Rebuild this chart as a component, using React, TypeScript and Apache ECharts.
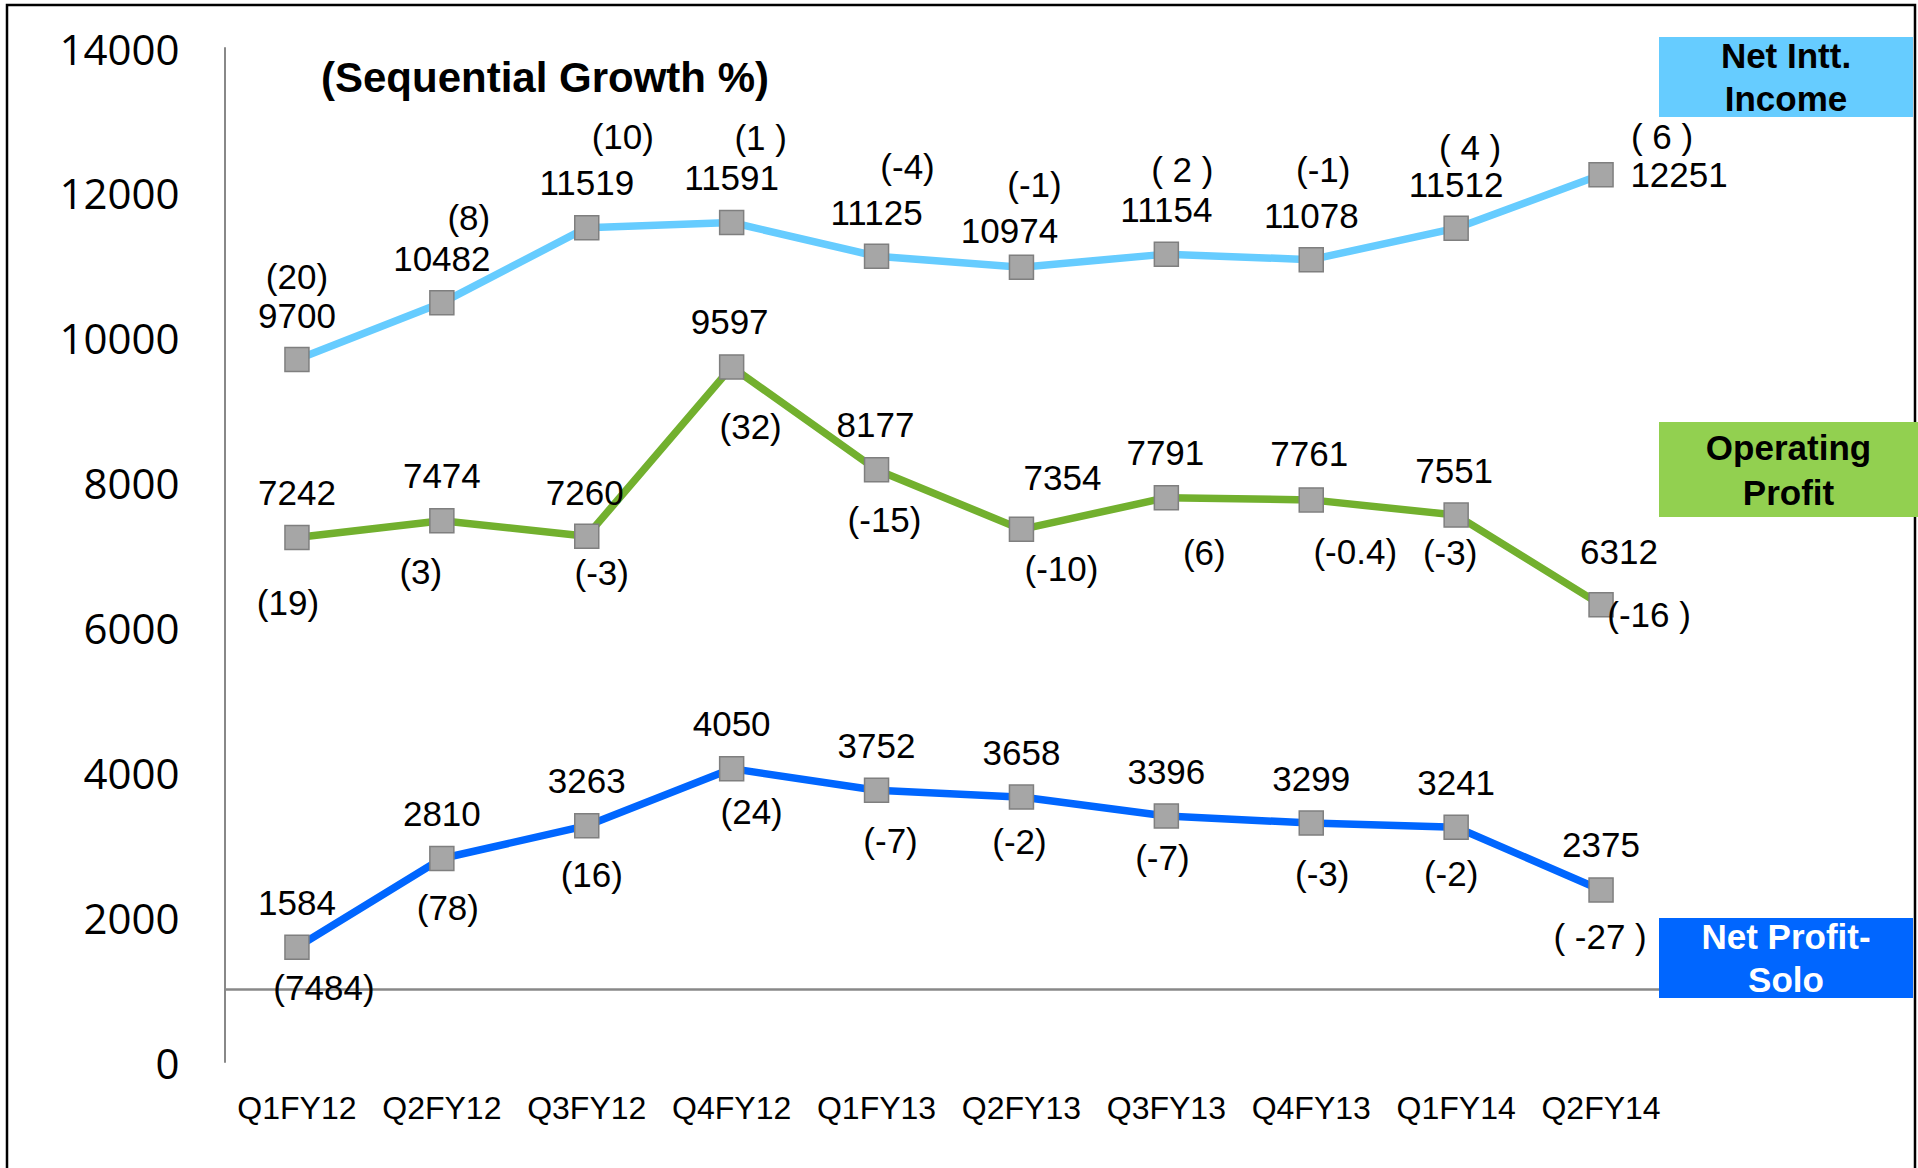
import React, { useEffect, useRef } from "react";
import * as echarts from "echarts";

const categories = ["Q1FY12", "Q2FY12", "Q3FY12", "Q4FY12", "Q1FY13", "Q2FY13", "Q3FY13", "Q4FY13", "Q1FY14", "Q2FY14"];

const netInterestIncome = [9700, 10482, 11519, 11591, 11125, 10974, 11154, 11078, 11512, 12251];
const niiGrowth = ["(20)", "(8)", "(10)", "(1 )", "(-4)", "(-1)", "( 2 )", "(-1)", "( 4 )", "( 6 )"];

const operatingProfit = [7242, 7474, 7260, 9597, 8177, 7354, 7791, 7761, 7551, 6312];
const opGrowth = ["(19)", "(3)", "(-3)", "(32)", "(-15)", "(-10)", "(6)", "(-0.4)", "(-3)", "(-16 )"];

const netProfit = [1584, 2810, 3263, 4050, 3752, 3658, 3396, 3299, 3241, 2375];
const npGrowth = ["(7484)", "(78)", "(16)", "(24)", "(-7)", "(-2)", "(-7)", "(-3)", "(-2)", "( -27 )"];

const yTicks = { min: 0, max: 14000, interval: 2000 };
const baseLineValue = 1000;

// label layout (offsets from marker centre, px)
const niiValueOffsets = [[0, -44], [0, -44], [0, -45], [0, -45], [0, -44], [-12, -37], [0, -45], [0, -44], [0, -44], [78, 0]];
const niiGrowthOffsets = [[0, -83], [27, -85], [36, -91], [29, -85], [31, -90], [13, -83], [16, -85], [12, -90], [14, -81], [61, -38]];
const opValueOffsets = [[0, -45], [0, -45], [-2, -44], [-2, -45], [-1, -45], [41, -52], [-1, -45], [-2, -46], [-2, -45], [18, -53]];
const opGrowthOffsets = [[-9, 65], [-21, 51], [15, 36], [19, 60], [8, 50], [40, 39], [38, 55], [44, 52], [-6, 37], [48, 10]];
const npValueOffsets = [[0, -45], [0, -45], [0, -45], [0, -45], [0, -45], [0, -45], [0, -45], [0, -45], [0, -45], [0, -45]];
const npGrowthOffsets = [[27, 40], [6, 49], [5, 49], [20, 43], [14, 50], [-2, 44], [-4, 41], [11, 50], [-5, 46], [-1, 47]];

const FONT = "Liberation Sans, Arial, sans-serif";
const LABEL_SIZE = 35;

function lineSeries(name: string, values: number[], color: string, offsets: number[][], extra: any = {}) {
  return {
    type: "line",
    name,
    data: values.map((v, i) => ({ value: v, label: { offset: offsets[i] } })),
    symbol: "rect",
    symbolSize: 24,
    lineStyle: { color, width: 7.5 },
    itemStyle: { color: "#A6A6A6", borderColor: "#7F7F7F", borderWidth: 1.5, opacity: 1 },
    label: {
      show: true,
      position: "inside",
      formatter: "{c}",
      color: "#000",
      fontSize: LABEL_SIZE,
      fontFamily: FONT,
    },
    z: 3,
    silent: true,
    ...extra,
  };
}

function growthSeries(name: string, values: number[], texts: string[], offsets: number[][]) {
  return {
    type: "scatter",
    name,
    data: values.map((v, i) => ({ value: v, label: { offset: offsets[i], formatter: texts[i] } })),
    symbol: "rect",
    symbolSize: 2,
    itemStyle: { color: "rgba(255,255,255,0)", opacity: 1 },
    label: {
      show: true,
      position: "inside",
      color: "#000",
      opacity: 1,
      fontSize: LABEL_SIZE,
      fontFamily: FONT,
    },
    z: 4,
    silent: true,
  };
}

function legendBox(x: number, y: number, w: number, h: number, fill: string, text: string, textColor: string, lh: number) {
  return {
    type: "group",
    z: 100,
    children: [
      { type: "rect", z: 100, shape: { x, y, width: w, height: h }, style: { fill } },
      {
        type: "text",
        z: 101,
        x: x + w / 2,
        y: y + h / 2,
        style: {
          text,
          fill: textColor,
          font: `bold 35px ${FONT}`,
          lineHeight: lh,
          align: "center",
          verticalAlign: "middle",
        },
      },
    ],
  };
}

export default function App() {
  const ref = useRef<HTMLDivElement>(null);
  useEffect(() => {
    const chart = echarts.init(ref.current!, null, { renderer: "svg" });
    const option: any = {
      animation: false,
      backgroundColor: "#ffffff",
      grid: { left: 224.5, right: 244.5, top: 48, bottom: 106, containLabel: false },
      xAxis: {
        type: "category",
        data: categories,
        boundaryGap: true,
        axisLine: { show: false },
        axisTick: { show: false },
        splitLine: { show: false },
        axisLabel: { interval: 0, fontSize: 32, color: "#000", fontFamily: FONT, margin: 30 },
      },
      yAxis: {
        type: "value",
        min: yTicks.min,
        max: yTicks.max,
        interval: yTicks.interval,
        axisLine: { show: true, lineStyle: { color: "#888888", width: 2 } },
        axisTick: { show: false },
        splitLine: { show: false },
        axisLabel: {
          fontSize: 42,
          color: "#000",
          fontFamily: "Open Sans, sans-serif",
          margin: 45,
          formatter: (v: number) => String(v),
        },
      },
      series: [
        lineSeries("Net Intt. Income", netInterestIncome, "#66CCFF", niiValueOffsets, {
          markLine: {
            silent: true,
            symbol: ["none", "none"],
            label: { show: false },
            lineStyle: { color: "#888888", width: 2.5, type: "solid" },
            data: [{ yAxis: baseLineValue }],
            z: 1,
          },
        }),
        lineSeries("Operating Profit", operatingProfit, "#72B02E", opValueOffsets),
        lineSeries("Net Profit-Solo", netProfit, "#0066FF", npValueOffsets),
        growthSeries("NII growth", netInterestIncome, niiGrowth, niiGrowthOffsets),
        growthSeries("OP growth", operatingProfit, opGrowth, opGrowthOffsets),
        growthSeries("NP growth", netProfit, npGrowth, npGrowthOffsets),
      ],
      graphic: [
        {
          type: "rect",
          z: 50,
          shape: { x: 7, y: 5, width: 1908, height: 1200 },
          style: { fill: "none", stroke: "#000", lineWidth: 2.5 },
        },
        {
          type: "text",
          z: 60,
          x: 545,
          y: 77,
          style: {
            text: "(Sequential Growth %)",
            fill: "#000",
            font: `bold 42px ${FONT}`,
            align: "center",
            verticalAlign: "middle",
          },
        },
        legendBox(1659, 37, 254, 80, "#66CCFF", "Net Intt.\nIncome", "#000", 43),
        legendBox(1659, 422, 259, 95, "#92D050", "Operating\nProfit", "#000", 45),
        legendBox(1659, 918, 254, 80, "#0066FF", "Net Profit-\nSolo", "#fff", 43),
      ],
    };
    chart.setOption(option);
    return () => chart.dispose();
  }, []);
  return (
    <div
      ref={ref}
      style={{ position: "fixed", left: 0, top: 0, width: 1918, height: 1168, background: "#fff" }}
    />
  );
}
